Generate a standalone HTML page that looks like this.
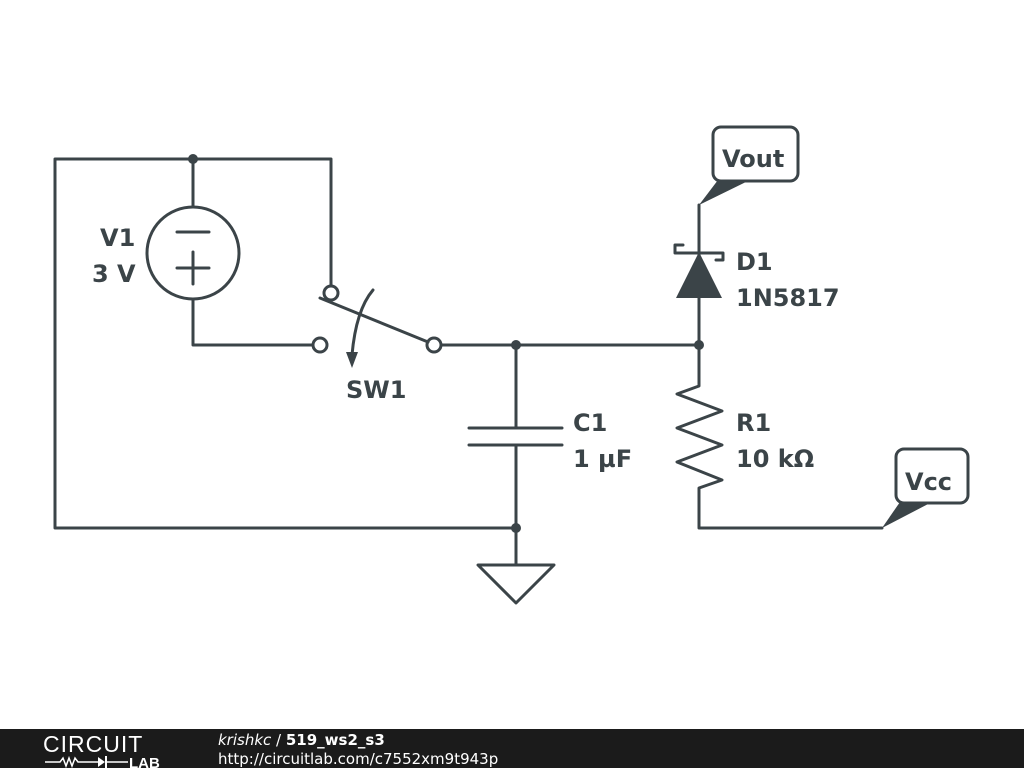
<!DOCTYPE html>
<html><head><meta charset="utf-8"><style>
body{margin:0;width:1024px;height:768px;background:#fff;overflow:hidden;font-family:"Liberation Sans",sans-serif}
</style></head><body>
<svg width="1024" height="768" viewBox="0 0 1024 768" xmlns="http://www.w3.org/2000/svg">
<g stroke="#3b4448" stroke-width="3" fill="none" stroke-linecap="round" stroke-linejoin="round">
<polyline points="331,286 331,159 55,159 55,528 516,528"/>
<line x1="193" y1="159" x2="193" y2="206"/>
<circle cx="193" cy="253" r="46"/>
<polyline points="193,299 193,345 313,345"/>
<circle cx="331" cy="293" r="7" fill="#fff"/>
<circle cx="320" cy="345" r="7" fill="#fff"/>
<circle cx="434" cy="345" r="7" fill="#fff"/>
<line x1="320" y1="298" x2="428" y2="342"/>
<path d="M373,290 Q356,310 352,355"/>
<line x1="441" y1="345" x2="699" y2="345"/>
<line x1="516" y1="345" x2="516" y2="428"/>
<line x1="469" y1="428" x2="562" y2="428"/>
<line x1="469" y1="445" x2="562" y2="445"/>
<line x1="516" y1="445" x2="516" y2="565"/>
<polygon points="478,565 554,565 516,603"/>
<polyline points="699,205 699,345 699,380 699,386 677,394 722,411 677,428 722,445 677,462 722,480 699,488 699,528 882,528"/>
<polyline points="683,245 675,245 675,253 723,253 723,260 716,260"/>
<line x1="177" y1="232" x2="209" y2="232"/>
<line x1="177" y1="268" x2="209" y2="268"/>
<line x1="193" y1="252" x2="193" y2="284"/>
<rect x="713" y="127" width="85" height="54" rx="8" fill="#fff"/>
<rect x="896" y="449" width="72" height="54" rx="8" fill="#fff"/>
</g>
<g fill="#3b4448">
<polygon points="699,252 676,298 722,298"/>
<polygon points="346,352 358,352 352,368"/>
<circle cx="193" cy="159" r="5"/>
<circle cx="516" cy="345" r="5"/>
<circle cx="699" cy="345" r="5"/>
<circle cx="516" cy="528" r="5"/>
<polygon points="699,205 718,180 750,180"/>
<polygon points="882,528 900,502 932,502"/>
</g>
<g fill="#3b4448" font-weight="bold" font-size="24" font-family="DejaVu Sans,sans-serif">
<text x="722" y="167">Vout</text>
<text x="905" y="490">Vcc</text>
<text x="100" y="246">V1</text>
<text x="92" y="282">3 V</text>
<text x="346" y="398">SW1</text>
<text x="573" y="431">C1</text>
<text x="573" y="467">1 µF</text>
<text x="736" y="431">R1</text>
<text x="736" y="467">10 kΩ</text>
<text x="736" y="270">D1</text>
<text x="736" y="306">1N5817</text>
</g>
<rect x="0" y="729" width="1024" height="39" fill="#1b1b1b"/>
<text x="43" y="752" fill="#fff" font-size="23" letter-spacing="1" font-family="Liberation Sans,sans-serif">CIRCUIT</text>
<polyline points="45,762 60,762 63,758 66,766 69,758 72,766 75,758 78,762 98,762" stroke="#fff" stroke-width="1.5" fill="none"/>
<polygon points="98,757 98,767 105,762" fill="#fff"/>
<line x1="106" y1="756" x2="106" y2="768" stroke="#fff" stroke-width="2"/>
<line x1="106" y1="762" x2="128" y2="762" stroke="#fff" stroke-width="1.5"/>
<text x="129" y="768" fill="#fff" font-size="15" font-weight="bold">LAB</text>
<g font-family="DejaVu Sans,sans-serif" font-size="15" fill="#fff">
<text x="218" y="745"><tspan font-style="italic">krishkc</tspan> / <tspan font-weight="bold">519_ws2_s3</tspan></text>
<text x="218" y="764">http://circuitlab.com/c7552xm9t943p</text>
</g>
</svg>
</body></html>
